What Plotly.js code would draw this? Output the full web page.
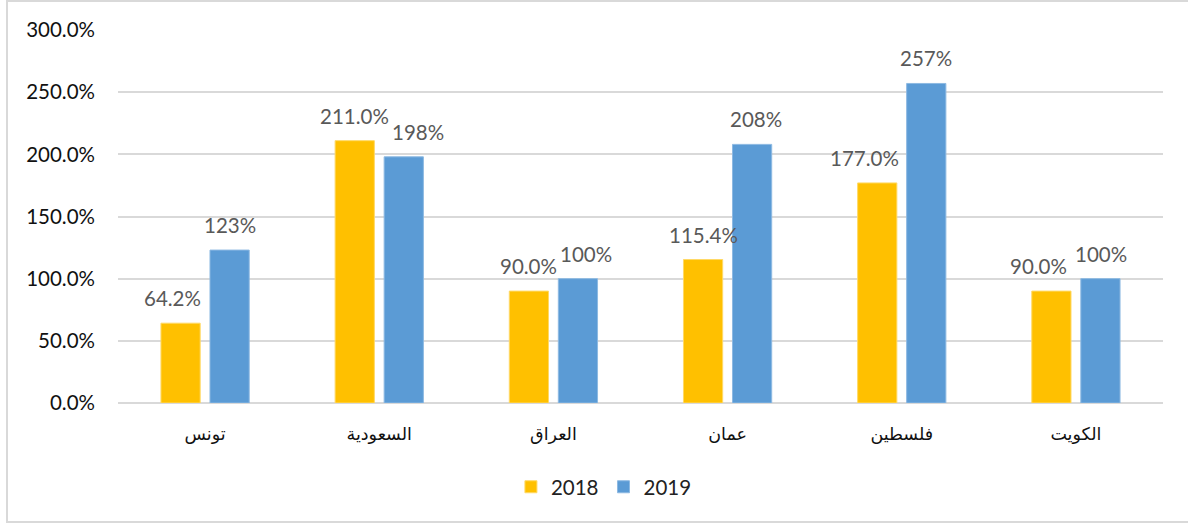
<!DOCTYPE html>
<html>
<head>
<meta charset="utf-8">
<script src="https://cdn.plot.ly/plotly-3.0.1.min.js"></script>
<style>
  html, body { margin: 0; padding: 0; background: #fff; }
  #wrap { position: relative; width: 1188px; height: 527px; overflow: hidden; }
  #chart { position: absolute; left: 0; top: 0; width: 1188px; height: 527px; }
  #frame { position: absolute; left: 6px; top: 0px; width: 1200px; height: 523px;
           border: 2px solid #d9d9d9; box-sizing: border-box; pointer-events: none; }
</style>
</head>
<body>
<div id="wrap">
  <div id="chart"></div>
  <div id="frame"></div>
</div>
<script>
// ---- data ----
const countries = ["تونس", "السعودية", "العراق", "عمان", "فلسطين", "الكويت"];
const values2018 = [64.2, 211.0, 90.0, 115.4, 177.0, 90.0];
const values2019 = [123, 198, 100, 208, 257, 100];
const seriesNames = ["2018", "2019"];
const yTicks = [0, 50, 100, 150, 200, 250, 300];

// ---- style ----
const colors = ["#FFC000", "#5B9BD5"];
const barOffsetPx = 24.5;           // half distance between paired bar centres
const labelNudge2018 = [-8, 0, 0, 0, -13, -13];
const labelNudge2019 = [0, 14, 8, 4, 0, 1];
const labelFont = { family: "Lato, 'Liberation Sans', sans-serif", size: 20.5, color: "#595959" };

const traces = [
  { type: "bar", name: seriesNames[0], x: countries, y: values2018,
    marker: { color: colors[0], line: { color: "#FFD966", width: 1 } }, hoverinfo: "skip" },
  { type: "bar", name: seriesNames[1], x: countries, y: values2019,
    marker: { color: colors[1], line: { color: "#8DB9E2", width: 1 } }, hoverinfo: "skip" }
];

const annotations = [];
countries.forEach((c, i) => {
  annotations.push({ x: c, y: values2018[i], xref: "x", yref: "y",
    text: values2018[i].toFixed(1) + "%", showarrow: false,
    xshift: -barOffsetPx + labelNudge2018[i], yshift: 25, yanchor: "middle", xanchor: "center",
    font: labelFont });
  annotations.push({ x: c, y: values2019[i], xref: "x", yref: "y",
    text: values2019[i].toFixed(0) + "%", showarrow: false,
    xshift: barOffsetPx + labelNudge2019[i], yshift: 25, yanchor: "middle", xanchor: "center",
    font: labelFont });
});

const layout = {
  width: 1188, height: 527,
  margin: { l: 118, r: 25, t: 30, b: 124 },
  paper_bgcolor: "rgba(0,0,0,0)", plot_bgcolor: "#fff",
  barmode: "group", bargap: 0.437, bargroupgap: 0.2,
  showlegend: true,
  legend: { orientation: "h", x: 0.465, xanchor: "center", y: -0.225, yanchor: "middle",
            font: { family: "Lato, 'Liberation Sans', sans-serif", size: 20.5, color: "#222" },
            itemwidth: 30, traceorder: "normal" },
  xaxis: { type: "category", showgrid: false, zeroline: false, showline: false,
           ticks: "", ticklabelstandoff: 18,
           tickfont: { family: "'DejaVu Sans', sans-serif", size: 17.5, color: "#111" } },
  yaxis: { range: [0, 300], tickvals: yTicks, ticktext: yTicks.map(v => v.toFixed(1) + "%"),
           showgrid: true, gridcolor: "#d9d9d9", gridwidth: 2,
           zeroline: true, zerolinecolor: "#d9d9d9", zerolinewidth: 2, showline: false,
           ticks: "", ticklabelstandoff: 22,
           tickfont: { family: "Lato, 'Liberation Sans', sans-serif", size: 20.5, color: "#111" } },
  annotations: annotations
};

Plotly.newPlot("chart", traces, layout, { displayModeBar: false, staticPlot: true });
</script>
</body>
</html>
